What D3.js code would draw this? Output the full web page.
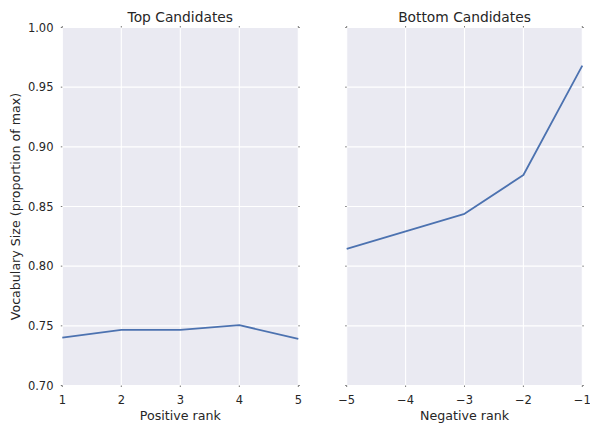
<!DOCTYPE html>
<html><head><meta charset="utf-8">
<script src="https://cdn.jsdelivr.net/npm/d3@7"></script>
<style>
body{margin:0;background:#fff;}
text{font-family:"DejaVu Sans",sans-serif;fill:#262626;}
</style></head>
<body><svg id="c" width="590" height="424"></svg>
<script>
const posRanks = [1, 2, 3, 4, 5];
const posValues = [0.7402, 0.7466, 0.7466, 0.7506, 0.7390];
const negRanks = [-5, -4, -3, -2, -1];
const negValues = [0.8145, 0.8292, 0.8439, 0.8764, 0.9681];
const yTicks = [0.70, 0.75, 0.80, 0.85, 0.90, 0.95, 1.00];
const titles = ["Top Candidates", "Bottom Candidates"];
const xLabels = ["Positive rank", "Negative rank"];
const yLabel = "Vocabulary Size (proportion of max)";

const svg = d3.select("#c");
const plotTop = 27.5, plotBottom = 385.5;
const y = d3.scaleLinear().domain([0.70, 1.00]).range([plotBottom, plotTop]);
const panels = [
  {x0: 62.3, x1: 298.3, xs: posRanks, vals: posValues, dom: [1, 5], showY: true},
  {x0: 346.7, x1: 582.3, xs: negRanks, vals: negValues, dom: [-5, -1], showY: false}
];
const fmtX = d => d < 0 ? "\u2212" + Math.abs(d) : String(d);

panels.forEach((p, i) => {
  const x = d3.scaleLinear().domain(p.dom).range([p.x0, p.x1]);
  const g = svg.append("g");
  g.append("rect").attr("x", p.x0).attr("y", plotTop).attr("width", p.x1 - p.x0).attr("height", plotBottom - plotTop).attr("fill", "#EAEAF2");
  g.selectAll(".gy").data(yTicks).enter().append("line")
    .attr("x1", p.x0).attr("x2", p.x1).attr("y1", d => y(d)).attr("y2", d => y(d))
    .attr("stroke", "#fff").attr("stroke-width", 1.1);
  g.selectAll(".gx").data(p.xs).enter().append("line")
    .attr("y1", plotTop).attr("y2", plotBottom).attr("x1", d => x(d)).attr("x2", d => x(d))
    .attr("stroke", "#fff").attr("stroke-width", 1.1);
  const tickCol = "#777";
  g.selectAll(".tyl").data(yTicks).enter().append("line")
    .attr("x1", p.x0 - 1.5).attr("x2", p.x0).attr("y1", d => y(d)).attr("y2", d => y(d)).attr("stroke", tickCol).attr("stroke-width", 1);
  g.selectAll(".tyr").data(yTicks).enter().append("line")
    .attr("x1", p.x1).attr("x2", p.x1 + 1.5).attr("y1", d => y(d)).attr("y2", d => y(d)).attr("stroke", tickCol).attr("stroke-width", 1);
  g.selectAll(".txb").data(p.xs).enter().append("line")
    .attr("y1", plotBottom).attr("y2", plotBottom + 1.5).attr("x1", d => x(d)).attr("x2", d => x(d)).attr("stroke", tickCol).attr("stroke-width", 1);
  g.selectAll(".txt").data(p.xs).enter().append("line")
    .attr("y1", plotTop - 1.5).attr("y2", plotTop).attr("x1", d => x(d)).attr("x2", d => x(d)).attr("stroke", tickCol).attr("stroke-width", 1);
  g.selectAll(".xl").data(p.xs).enter().append("text")
    .attr("x", d => x(d)).attr("y", 403.5).attr("text-anchor", "middle")
    .attr("font-size", "11.5px").text(fmtX);
  if (p.showY) {
    g.selectAll(".yl").data(yTicks).enter().append("text")
      .attr("x", 53.5).attr("y", d => y(d) + 4).attr("text-anchor", "end")
      .attr("font-size", "11.5px").text(d => d.toFixed(2));
    g.append("text").attr("transform", `translate(20,${(plotTop + plotBottom) / 2}) rotate(-90)`)
      .attr("text-anchor", "middle").attr("font-size", "12.65px").text(yLabel);
  }
  const line = d3.line().x((d, j) => x(p.xs[j])).y(d => y(d));
  g.append("path").datum(p.vals).attr("d", line).attr("fill", "none")
    .attr("stroke", "#4C72B0").attr("stroke-width", 1.8).attr("stroke-linejoin", "round");
  g.append("text").attr("x", (p.x0 + p.x1) / 2).attr("y", 22.3).attr("text-anchor", "middle")
    .attr("font-size", "13.8px").text(titles[i]);
  g.append("text").attr("x", (p.x0 + p.x1) / 2).attr("y", 419.5).attr("text-anchor", "middle")
    .attr("font-size", "12.65px").text(xLabels[i]);
});
</script></body></html>
